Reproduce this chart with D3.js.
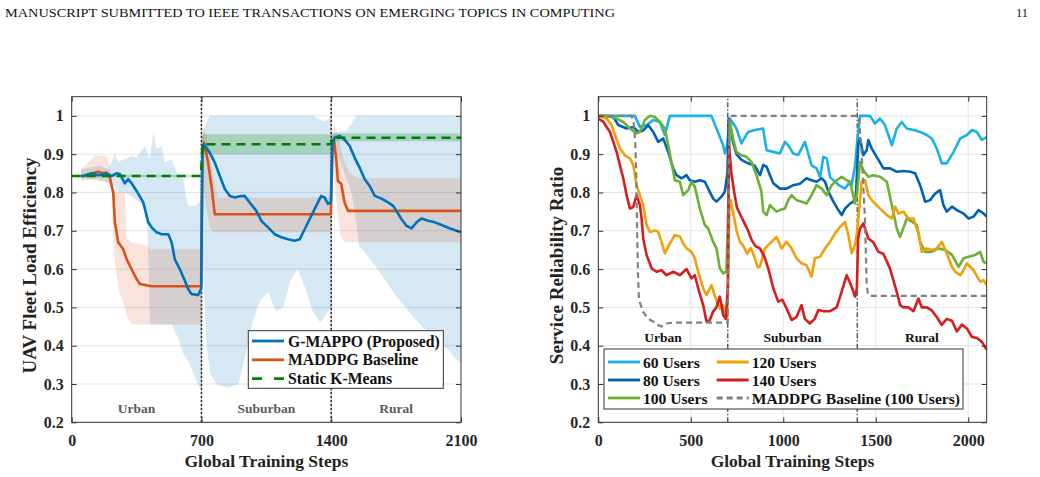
<!DOCTYPE html>
<html>
<head>
<meta charset="utf-8">
<script src="https://cdn.jsdelivr.net/npm/d3@7"></script>
<style>
  html, body { margin: 0; padding: 0; background: #fff; }
  svg { display: block; }
  text { font-family: "Liberation Serif", "Times New Roman", serif; }
</style>
</head>
<body>
<div id="chart"></div>
<script>
// ---- data ----
const phaseNames = ["Urban", "Suburban", "Rural"];
const phaseEdges = [700, 1400];
const phaseCenters = [350, 1050, 1750];
const yTicks = [0.2, 0.3, 0.4, 0.5, 0.6, 0.7, 0.8, 0.9, 1];
const leftXTicks = [0, 700, 1400, 2100];
const rightXTicks = [0, 500, 1000, 1500, 2000];

// left panel: UAV fleet load efficiency [step, value]
const gmappo = [[50,0.843],[63,0.843],[108,0.85],[144,0.845],[188,0.85],[215,0.843],[242,0.85],[260,0.848],[287,0.824],[305,0.835],[323,0.824],[350,0.804],[386,0.774],[413,0.722],[431,0.709],[458,0.696],[485,0.691],[521,0.691],[539,0.67],[556,0.626],[583,0.6],[610,0.57],[628,0.548],[646,0.535],[682,0.532],[695,0.545],[699,0.55],
  [705,0.9],[712,0.926],[745,0.904],[772,0.878],[799,0.843],[826,0.809],[853,0.791],[880,0.787],[906,0.79],[933,0.791],[960,0.774],[996,0.752],[1023,0.726],[1059,0.709],[1095,0.691],[1131,0.683],[1167,0.678],[1203,0.674],[1230,0.678],[1257,0.704],[1292,0.739],[1319,0.765],[1346,0.791],[1364,0.787],[1382,0.77],[1398,0.775],
  [1405,0.92],[1418,0.943],[1445,0.948],[1472,0.938],[1499,0.922],[1526,0.891],[1553,0.865],[1580,0.835],[1607,0.817],[1635,0.791],[1671,0.784],[1707,0.774],[1734,0.765],[1752,0.752],[1779,0.73],[1806,0.713],[1833,0.706],[1860,0.722],[1887,0.732],[1923,0.726],[1959,0.722],[1995,0.715],[2040,0.706],[2077,0.7],[2100,0.696]];
const maddpg = [[50,0.843],[63,0.843],[108,0.85],[144,0.854],[171,0.85],[188,0.852],[206,0.839],[224,0.8],[233,0.722],[251,0.67],[278,0.652],[296,0.626],[323,0.6],[350,0.574],[368,0.561],[431,0.555],[698,0.555],
  [705,0.9],[714,0.93],[736,0.878],[754,0.817],[772,0.743],[1398,0.743],
  [1406,0.9],[1414,0.939],[1427,0.887],[1436,0.83],[1454,0.822],[1472,0.774],[1490,0.752],[2100,0.752]];
const kmeans = [[0,0.843],[697,0.843],[706,0.926],[1397,0.926],[1406,0.943],[2100,0.943]];

// shaded ranges [step, low, high]
const gmappoBand = [[50,0.835,0.86],[100,0.835,0.865],[150,0.83,0.87],[197,0.825,0.861],[215,0.82,0.88],[233,0.815,0.904],[251,0.8,0.878],[270,0.8,0.885],[287,0.8,0.887],[323,0.79,0.896],[350,0.78,0.891],[395,0.765,0.922],[410,0.7,0.9],[422,0.455,0.887],[440,0.455,0.957],[458,0.455,0.913],[485,0.455,0.922],[503,0.455,0.878],[539,0.455,0.887],[574,0.42,0.843],[601,0.38,0.835],[628,0.36,0.765],[664,0.32,0.765],[690,0.29,0.774],[700,0.29,0.79],
  [700,0.88,0.93],[710,0.6,0.96],[725,0.42,0.98],[745,0.33,1.0],[780,0.3,1.0],[840,0.29,1.0],[900,0.3,1.0],[940,0.38,1.0],[980,0.47,1.0],[1020,0.52,1.0],[1060,0.54,1.0],[1100,0.49,1.0],[1140,0.5,1.0],[1180,0.57,1.0],[1220,0.6,1.0],[1260,0.55,1.0],[1300,0.49,1.0],[1340,0.46,0.99],[1370,0.48,0.985],[1400,0.5,1.0],
  [1400,0.9,0.95],[1420,0.9,0.955],[1450,0.88,0.96],[1480,0.84,0.96],[1510,0.8,0.98],[1535,0.72,1.0],[1550,0.66,1.0],[1580,0.645,1.0],[1650,0.6,1.0],[1750,0.53,1.0],[1870,0.46,1.0],[1950,0.42,1.0],[2030,0.39,1.0],[2085,0.36,1.0],[2100,0.355,1.0]];
const maddpgBand = [[50,0.83,0.86],[125,0.835,0.896],[188,0.83,0.896],[206,0.82,0.87],[215,0.8,0.82],[224,0.68,0.8],[233,0.62,0.8],[251,0.55,0.8],[287,0.5,0.8],[296,0.48,0.68],[323,0.455,0.67],[413,0.455,0.66],[422,0.455,0.652],[700,0.455,0.652],
  [700,0.86,0.9],[710,0.82,0.97],[725,0.76,0.95],[745,0.71,0.9],[765,0.696,0.84],[790,0.696,0.787],[1400,0.696,0.787],
  [1400,0.9,0.95],[1415,0.84,0.975],[1430,0.76,0.96],[1450,0.69,0.92],[1470,0.67,0.88],[1500,0.67,0.85],[1540,0.67,0.837],[2100,0.67,0.837]];
const kmeansBand = [[0,0.84,0.846],[700,0.84,0.846],
  [700,0.9,0.952],[1400,0.9,0.952],
  [1400,0.934,0.954],[2100,0.934,0.954]];

// right panel: service reliability ratio [step, value]
const users60 = [[0,1.0],[198,1.0],[225,0.971],[261,0.976],[297,0.989],[333,0.984],[360,0.95],[387,1.0],[612,1.0],[639,0.967],[675,0.923],[684,0.902],[697,0.923],[711,0.993],[747,0.967],[774,0.928],[810,0.958],[846,0.963],[891,0.967],[910,0.91],[946,0.906],[982,0.902],[1009,0.932],[1027,0.923],[1054,0.902],[1081,0.898],[1117,0.932],[1153,0.871],[1180,0.863],[1199,0.84],[1217,0.893],[1235,0.889],[1253,0.84],[1298,0.82],[1334,0.81],[1352,0.823],[1370,0.82],[1388,0.87],[1400,0.932],[1415,1.0],[1469,1.0],[1496,0.98],[1523,0.993],[1550,0.976],[1587,0.923],[1614,0.967],[1641,0.984],[1668,0.967],[1704,0.963],[1740,0.958],[1776,0.95],[1803,0.941],[1830,0.915],[1857,0.876],[1884,0.876],[1921,0.906],[1957,0.941],[1993,0.95],[2020,0.963],[2047,0.958],[2074,0.937],[2100,0.945]];
const users80 = [[0,1.0],[81,0.997],[108,0.976],[153,0.967],[189,0.971],[216,0.958],[243,0.962],[270,0.976],[297,0.958],[324,0.932],[351,0.941],[378,0.906],[405,0.863],[423,0.845],[450,0.837],[477,0.845],[495,0.832],[522,0.828],[549,0.832],[576,0.828],[594,0.81],[621,0.784],[639,0.776],[666,0.789],[684,0.802],[698,0.85],[705,0.993],[711,0.98],[729,0.93],[747,0.9],[774,0.885],[810,0.876],[846,0.87],[874,0.845],[892,0.872],[910,0.867],[928,0.845],[946,0.824],[982,0.81],[1018,0.81],[1054,0.819],[1090,0.823],[1126,0.837],[1153,0.832],[1180,0.828],[1208,0.837],[1226,0.828],[1244,0.802],[1271,0.776],[1298,0.754],[1316,0.741],[1334,0.758],[1361,0.771],[1379,0.776],[1393,0.793],[1406,0.928],[1415,0.941],[1433,0.897],[1451,0.91],[1460,0.937],[1478,0.915],[1505,0.893],[1542,0.863],[1578,0.863],[1614,0.854],[1650,0.856],[1686,0.854],[1713,0.85],[1740,0.819],[1767,0.776],[1794,0.78],[1821,0.797],[1848,0.806],[1866,0.767],[1884,0.75],[1912,0.763],[1939,0.754],[1975,0.745],[2002,0.732],[2029,0.737],[2056,0.754],[2083,0.745],[2100,0.737]];
const users100 = [[0,1.0],[45,1.0],[99,0.993],[135,0.984],[171,0.967],[207,0.954],[225,0.958],[252,0.989],[279,1.0],[306,0.997],[333,0.984],[360,0.967],[378,0.923],[396,0.878],[414,0.832],[441,0.828],[459,0.793],[486,0.806],[504,0.828],[522,0.815],[549,0.758],[576,0.715],[594,0.706],[621,0.671],[639,0.654],[657,0.602],[675,0.589],[693,0.593],[702,0.75],[711,0.985],[729,0.941],[747,0.906],[774,0.897],[801,0.893],[828,0.88],[855,0.845],[882,0.802],[892,0.75],[910,0.741],[928,0.767],[946,0.758],[964,0.75],[982,0.754],[1009,0.758],[1027,0.78],[1045,0.793],[1072,0.78],[1099,0.776],[1126,0.771],[1153,0.793],[1180,0.819],[1208,0.81],[1235,0.793],[1262,0.819],[1289,0.832],[1316,0.841],[1343,0.832],[1361,0.828],[1388,0.771],[1400,0.8],[1415,0.88],[1433,0.858],[1460,0.841],[1487,0.845],[1523,0.841],[1560,0.828],[1587,0.767],[1614,0.706],[1632,0.684],[1668,0.732],[1695,0.724],[1722,0.715],[1740,0.671],[1767,0.645],[1803,0.645],[1839,0.654],[1875,0.65],[1912,0.637],[1948,0.606],[1975,0.628],[2002,0.632],[2038,0.637],[2065,0.645],[2083,0.619],[2100,0.615]];
const users120 = [[0,1.0],[45,0.993],[72,0.976],[90,0.95],[117,0.915],[144,0.897],[171,0.889],[189,0.872],[207,0.819],[225,0.793],[243,0.767],[261,0.715],[279,0.697],[306,0.701],[324,0.697],[342,0.671],[360,0.641],[387,0.667],[414,0.689],[441,0.685],[459,0.667],[477,0.654],[504,0.645],[522,0.628],[540,0.593],[567,0.55],[585,0.532],[612,0.558],[630,0.53],[657,0.497],[675,0.505],[690,0.47],[700,0.52],[708,0.75],[715,0.78],[730,0.745],[748,0.7],[765,0.672],[785,0.66],[805,0.64],[825,0.655],[845,0.63],[862,0.605],[874,0.606],[901,0.654],[928,0.667],[964,0.684],[991,0.654],[1018,0.671],[1045,0.654],[1072,0.628],[1099,0.615],[1126,0.61],[1153,0.58],[1171,0.628],[1199,0.632],[1226,0.654],[1253,0.671],[1280,0.693],[1307,0.71],[1334,0.723],[1352,0.689],[1370,0.641],[1388,0.663],[1400,0.7],[1424,0.828],[1442,0.832],[1460,0.793],[1478,0.78],[1505,0.767],[1532,0.754],[1560,0.741],[1587,0.732],[1605,0.763],[1623,0.745],[1650,0.75],[1677,0.732],[1704,0.732],[1731,0.693],[1749,0.645],[1776,0.654],[1803,0.65],[1830,0.654],[1857,0.671],[1884,0.641],[1912,0.606],[1930,0.593],[1957,0.584],[1975,0.597],[1993,0.615],[2029,0.597],[2065,0.567],[2083,0.571],[2100,0.558]];
const users140 = [[0,0.993],[27,0.985],[45,0.971],[63,0.958],[81,0.932],[99,0.906],[117,0.871],[135,0.837],[153,0.793],[171,0.758],[189,0.762],[207,0.793],[225,0.767],[234,0.732],[243,0.68],[261,0.637],[288,0.602],[315,0.593],[342,0.597],[369,0.584],[405,0.593],[441,0.584],[477,0.6],[504,0.576],[522,0.584],[540,0.55],[567,0.506],[585,0.463],[603,0.467],[621,0.489],[639,0.5],[657,0.528],[666,0.506],[675,0.48],[690,0.47],[700,0.55],[707,0.92],[720,0.85],[735,0.8],[750,0.76],[770,0.74],[790,0.72],[810,0.7],[830,0.675],[850,0.66],[874,0.654],[900,0.63],[920,0.6],[946,0.55],[973,0.515],[995,0.52],[1018,0.497],[1045,0.467],[1072,0.475],[1099,0.506],[1117,0.47],[1144,0.458],[1170,0.47],[1190,0.493],[1220,0.49],[1253,0.49],[1289,0.5],[1316,0.541],[1343,0.584],[1365,0.56],[1388,0.528],[1398,0.55],[1405,0.68],[1415,0.706],[1433,0.719],[1460,0.68],[1487,0.67],[1514,0.645],[1541,0.64],[1560,0.62],[1578,0.6],[1596,0.57],[1614,0.54],[1632,0.506],[1650,0.5],[1677,0.5],[1704,0.49],[1731,0.523],[1749,0.5],[1776,0.5],[1803,0.492],[1830,0.475],[1857,0.454],[1884,0.47],[1912,0.465],[1939,0.437],[1966,0.455],[1993,0.445],[2020,0.423],[2047,0.42],[2074,0.41],[2100,0.389]];
const maddpg100 = [[0,1.0],[180,1.0],[192,0.98],[200,0.93],[205,0.85],[210,0.7],[215,0.58],[220,0.52],[240,0.49],[270,0.47],[297,0.463],[330,0.452],[342,0.45],[369,0.458],[400,0.46],[700,0.46],[708,1.0],[1408,1.0],[1424,0.9],[1442,0.73],[1451,0.56],[1458,0.535],[1469,0.53],[2100,0.53]];

const leftSeries = [
  { name: "G-MAPPO (Proposed)", data: gmappo, band: gmappoBand, color: "#0072BD", dash: null },
  { name: "MADDPG Baseline", data: maddpg, band: maddpgBand, color: "#D95319", dash: null },
  { name: "Static K-Means", data: kmeans, band: kmeansBand, color: "#008000", dash: "9,6" }
];
const rightSeries = [
  { name: "60 Users", data: users60, color: "#1AB2E6", dash: null },
  { name: "80 Users", data: users80, color: "#0062B0", dash: null },
  { name: "100 Users", data: users100, color: "#6DB033", dash: null },
  { name: "120 Users", data: users120, color: "#EFA00B", dash: null },
  { name: "140 Users", data: users140, color: "#D71E1E", dash: null },
  { name: "MADDPG Baseline (100 Users)", data: maddpg100, color: "#808080", dash: "6,4" }
];

// ---- drawing ----
const W = 1040, H = 477;
const svg = d3.select('#chart').append('svg').attr('width', W).attr('height', H);

// page header
svg.append('text').attr('x', 5).attr('y', 17)
  .attr('font-size', 12.5).attr('textLength', 610).attr('lengthAdjust', 'spacingAndGlyphs')
  .attr('fill', '#111')
  .text('MANUSCRIPT SUBMITTED TO IEEE TRANSACTIONS ON EMERGING TOPICS IN COMPUTING');
svg.append('text').attr('x', 1028).attr('y', 17).attr('text-anchor', 'end')
  .attr('font-size', 12.5).attr('fill', '#111').text('11');

const yScale = d3.scaleLinear().domain([0.2, 1.05]).range([422.3, 96.7]);
const xLeft = d3.scaleLinear().domain([0, 2100]).range([71.7, 461]);
const xRight = d3.scaleLinear().domain([0, 2100]).range([598.3, 986.7]);

function frame(id, x, opts) {
  const g = svg.append('g');
  const [x0, x1] = x.range();
  const [y0, y1] = yScale.range();
  svg.append('clipPath').attr('id', id).append('rect')
    .attr('x', x0).attr('y', y1).attr('width', x1 - x0).attr('height', y0 - y1);

  // grid
  const grid = g.append('g').attr('stroke', '#e3e3e3').attr('stroke-width', 1);
  yTicks.forEach(v => grid.append('line').attr('x1', x0).attr('x2', x1)
    .attr('y1', yScale(v)).attr('y2', yScale(v)));
  if (opts.vgrid) {
    opts.xTicks.forEach(v => grid.append('line').attr('y1', y0).attr('y2', y1)
      .attr('x1', x(v)).attr('x2', x(v)));
  }
  const plot = g.append('g').attr('clip-path', `url(#${id})`);
  return { g, plot, x0, x1, y0, y1 };
}

function axes(f, x, xTicks, yTitle, yTitleX) {
  const fmt = v => (v === 1 ? '1' : d3.format('.1f')(v));
  const ax = f.g.append('g');
  const styleAxis = sel => {
    sel.select('.domain').remove();
    sel.selectAll('line').attr('stroke', '#333');
    sel.selectAll('text').attr('font-family', '"Liberation Serif", serif')
      .attr('font-weight', 'bold').attr('font-size', 16).attr('fill', '#262626');
  };
  ax.append('g').attr('transform', `translate(0,${f.y0})`)
    .call(d3.axisBottom(x).tickValues(xTicks).tickSize(-5).tickPadding(12).tickFormat(d3.format('d')))
    .call(styleAxis);
  ax.append('g').attr('transform', `translate(0,${f.y1})`)
    .call(d3.axisTop(x).tickValues(xTicks).tickSize(-5).tickFormat(''))
    .call(styleAxis);
  ax.append('g').attr('transform', `translate(${f.x0},0)`)
    .call(d3.axisLeft(yScale).tickValues(yTicks).tickSize(-5).tickPadding(8).tickFormat(fmt))
    .call(styleAxis);
  ax.append('g').attr('transform', `translate(${f.x1},0)`)
    .call(d3.axisRight(yScale).tickValues(yTicks).tickSize(-5).tickFormat(''))
    .call(styleAxis);
  ax.append('rect').attr('x', f.x0).attr('y', f.y1)
    .attr('width', f.x1 - f.x0).attr('height', f.y0 - f.y1)
    .attr('fill', 'none').attr('stroke', '#333').attr('stroke-width', 1);

  f.g.append('text').attr('x', (f.x0 + f.x1) / 2).attr('y', 467)
    .attr('text-anchor', 'middle').attr('font-weight', 'bold').attr('font-size', 17.5)
    .attr('fill', '#222').text('Global Training Steps');
  f.g.append('text').attr('transform', `translate(${yTitleX},${(f.y0 + f.y1) / 2 + 6}) rotate(-90)`)
    .attr('text-anchor', 'middle').attr('font-weight', 'bold').attr('font-size', 19)
    .attr('fill', '#222').text(yTitle);
}

// ---------- left panel ----------
const L = frame('clipL', xLeft, { vgrid: false, xTicks: leftXTicks });
const area = x => d3.area().x(d => x(d[0])).y0(d => yScale(d[1])).y1(d => yScale(d[2]));
const line = x => d3.line().x(d => x(d[0])).y(d => yScale(d[1]));

leftSeries.forEach(s => {
  L.plot.append('path').datum(s.band).attr('d', area(xLeft))
    .attr('fill', s.color).attr('fill-opacity', s.dash ? 0.22 : 0.16);
});
phaseEdges.forEach(v => L.plot.append('line')
  .attr('x1', xLeft(v)).attr('x2', xLeft(v)).attr('y1', L.y0).attr('y2', L.y1)
  .attr('stroke', '#333').attr('stroke-width', 1.6).attr('stroke-dasharray', '2.5,1.5'));
[leftSeries[1], leftSeries[0], leftSeries[2]].forEach(s => {
  L.plot.append('path').datum(s.data).attr('d', line(xLeft))
    .attr('fill', 'none').attr('stroke', s.color).attr('stroke-width', 2.6)
    .attr('stroke-dasharray', s.dash).attr('stroke-linejoin', 'round');
});
phaseNames.forEach((n, i) => L.g.append('text')
  .attr('x', xLeft(phaseCenters[i])).attr('y', 413).attr('text-anchor', 'middle')
  .attr('font-weight', 'bold').attr('font-size', 13.5).attr('fill', '#5a5a5a').text(n));
axes(L, xLeft, leftXTicks, 'UAV Fleet Load Efficiency', 36);

// legend left
const lg = L.g.append('g');
lg.append('rect').attr('x', 248.3).attr('y', 330.7).attr('width', 195).attr('height', 57.6)
  .attr('fill', '#fff').attr('stroke', '#333').attr('stroke-width', 1);
leftSeries.forEach((s, i) => {
  const y = 341 + i * 18.8;
  lg.append('line').attr('x1', 252).attr('x2', 284).attr('y1', y).attr('y2', y)
    .attr('stroke', s.color).attr('stroke-width', 2.8)
    .attr('stroke-dasharray', s.dash ? '10,12' : null);
  lg.append('text').attr('x', 288).attr('y', y + 5.5).attr('font-weight', 'bold')
    .attr('font-size', 15.7).attr('fill', '#111').text(s.name);
});

// ---------- right panel ----------
const R = frame('clipR', xRight, { vgrid: true, xTicks: rightXTicks });
phaseEdges.forEach(v => R.plot.append('line')
  .attr('x1', xRight(v)).attr('x2', xRight(v)).attr('y1', R.y0).attr('y2', R.y1)
  .attr('stroke', '#444').attr('stroke-width', 1.3).attr('stroke-dasharray', '5,2,1.5,2'));
rightSeries.forEach(s => {
  R.plot.append('path').datum(s.data).attr('d', line(xRight))
    .attr('fill', 'none').attr('stroke', s.color).attr('stroke-width', s.dash ? 2.2 : 2.6)
    .attr('stroke-dasharray', s.dash).attr('stroke-linejoin', 'round');
});
phaseNames.forEach((n, i) => R.g.append('text')
  .attr('x', xRight(phaseCenters[i])).attr('y', 342).attr('text-anchor', 'middle')
  .attr('font-weight', 'bold').attr('font-size', 13.5).attr('fill', '#111').text(n));
axes(R, xRight, rightXTicks, 'Service Reliability Ratio', 563);

// legend right
const rg = R.g.append('g');
rg.append('rect').attr('x', 604).attr('y', 349).attr('width', 359).attr('height', 60)
  .attr('fill', '#fff').attr('stroke', '#333').attr('stroke-width', 1);
rightSeries.forEach((s, i) => {
  const col = i < 3 ? 0 : 1;
  const row = i % 3;
  const lx = col === 0 ? 608 : 716.7;
  const y = 362 + row * 18;
  rg.append('line').attr('x1', lx).attr('x2', lx + 32).attr('y1', y).attr('y2', y)
    .attr('stroke', s.color).attr('stroke-width', 2.8)
    .attr('stroke-dasharray', s.dash);
  rg.append('text').attr('x', lx + 35).attr('y', y + 5.5).attr('font-weight', 'bold')
    .attr('font-size', 15.6).attr('fill', '#111').text(s.name);
});
</script>
</body>
</html>
